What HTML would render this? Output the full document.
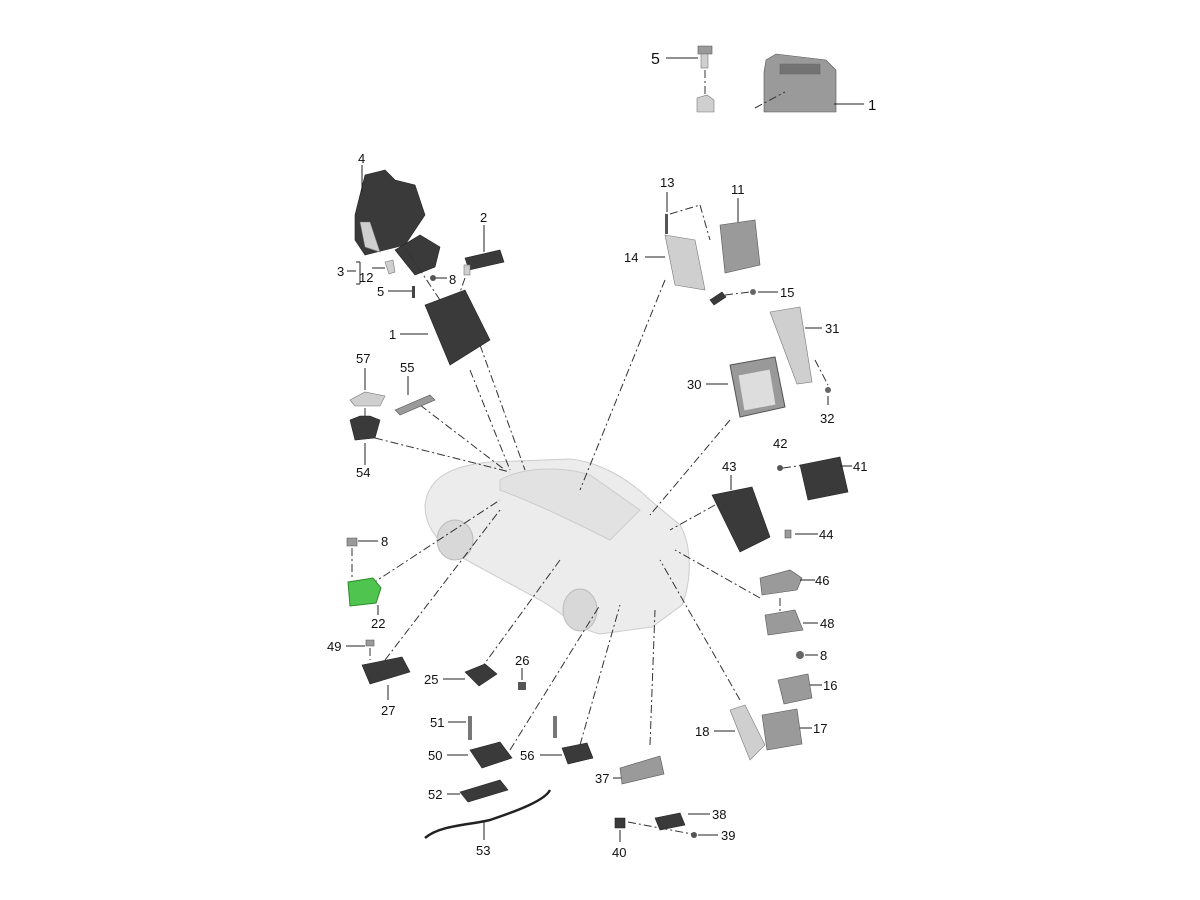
<!DOCTYPE html>
<html><head><meta charset="utf-8"><style>
html,body{margin:0;padding:0;background:#fff;}
svg{display:block}
text{font-family:"Liberation Sans",Arial,sans-serif;font-size:13px;fill:#111}
.l{stroke:#222;stroke-width:1;fill:none}
.d{stroke:#333;stroke-width:1;fill:none;stroke-dasharray:8 3 2 3}
.p{fill:#3a3a3a;stroke:#222;stroke-width:.6}
.g{fill:#9a9a9a;stroke:#555;stroke-width:.6}
.lg{fill:#cfcfcf;stroke:#777;stroke-width:.6}
</style></head><body>
<svg width="1200" height="900" viewBox="0 0 1200 900">
<!-- top inset -->
<text x="651" y="64" style="font-size:16px">5</text>
<line class="l" x1="666" y1="58" x2="698" y2="58"/>
<path class="g" d="M698 46 h14 v8 h-14z"/><rect class="lg" x="701" y="54" width="7" height="14"/>
<line class="d" x1="705" y1="70" x2="705" y2="97"/>
<path class="lg" d="M697 98 l10 -3 l7 5 v12 h-17z"/>
<path class="g" d="M766 60 l10 -6 l50 6 l10 10 v42 h-72 v-40z"/>
<path class="p" d="M780 64 h40 v10 h-40z" opacity=".4"/>
<line class="d" x1="755" y1="108" x2="785" y2="92"/>
<line class="l" x1="834" y1="104" x2="864" y2="104"/>
<text x="868" y="110" style="font-size:15px">1</text>
<!-- car -->
<path d="M425 505 C428 478 450 466 490 462 L570 459 C600 462 630 480 650 500 L680 525 C692 545 692 580 682 605 L652 627 L600 634 C580 630 565 615 540 600 L470 562 C440 545 425 530 425 505Z" fill="#ececec" stroke="#ccc"/>
<path d="M500 480 C520 468 560 465 590 475 L640 510 L610 540 C580 525 540 505 500 490Z" fill="#e2e2e2" stroke="#ccc"/>
<ellipse cx="455" cy="540" rx="18" ry="20" fill="#d8d8d8" stroke="#bbb"/>
<ellipse cx="580" cy="610" rx="17" ry="21" fill="#d8d8d8" stroke="#bbb"/>
<!-- dash lines to car -->
<line class="d" x1="480" y1="345" x2="525" y2="470"/>
<line class="d" x1="470" y1="370" x2="510" y2="470"/>
<line class="d" x1="420" y1="405" x2="505" y2="470"/>
<line class="d" x1="375" y1="438" x2="510" y2="472"/>
<line class="d" x1="665" y1="280" x2="580" y2="490"/>
<line class="d" x1="730" y1="420" x2="650" y2="515"/>
<line class="d" x1="715" y1="505" x2="670" y2="530"/>
<line class="d" x1="760" y1="598" x2="675" y2="550"/>
<line class="d" x1="740" y1="700" x2="660" y2="560"/>
<line class="d" x1="650" y1="745" x2="655" y2="610"/>
<line class="d" x1="580" y1="745" x2="620" y2="605"/>
<line class="d" x1="510" y1="750" x2="600" y2="605"/>
<line class="d" x1="480" y1="670" x2="560" y2="560"/>
<line class="d" x1="385" y1="660" x2="500" y2="510"/>
<line class="d" x1="370" y1="585" x2="500" y2="500"/>
<!-- part 4 -->
<path class="p" d="M355 215 l10 -40 l20 -5 l10 10 l20 5 l10 30 l-20 30 l-40 10 l-10 -15z"/>
<path class="lg" d="M360 222 l5 25 l15 5 l-10 -30z"/>
<line class="l" x1="362" y1="165" x2="362" y2="192"/>
<text x="358" y="163">4</text>
<path class="p" d="M395 250 l25 -15 l20 12 l-5 20 l-20 8z"/>
<path class="lg" d="M385 262 l8 -2 l2 12 l-6 2z"/>
<line class="d" x1="400" y1="240" x2="440" y2="300"/>
<!-- 2 -->
<path class="p" d="M465 258 l35 -8 l4 12 l-35 8z"/><rect class="lg" x="464" y="265" width="6" height="10"/>
<line class="l" x1="484" y1="225" x2="484" y2="252"/><text x="480" y="222">2</text>
<line class="d" x1="465" y1="278" x2="450" y2="320"/>
<text x="337" y="276">3</text><line class="l" x1="347" y1="271" x2="356" y2="271"/>
<path class="l" d="M360 262 v22 M356 262 h4 M356 284 h4"/>
<text x="359" y="282">12</text><line class="l" x1="372" y1="268" x2="385" y2="268"/>
<text x="449" y="284">8</text><line class="l" x1="436" y1="278" x2="447" y2="278"/><circle cx="433" cy="278" r="3" fill="#555"/>
<text x="377" y="296">5</text><line class="l" x1="388" y1="291" x2="412" y2="291"/><rect x="412" y="286" width="3" height="12" fill="#444"/>
<!-- 1 -->
<path class="p" d="M425 305 l40 -15 l25 50 l-40 25z"/>
<text x="389" y="339">1</text><line class="l" x1="400" y1="334" x2="428" y2="334"/>
<!-- 57/55/54 -->
<text x="356" y="363">57</text><line class="l" x1="365" y1="368" x2="365" y2="390"/>
<path class="lg" d="M350 400 l15 -8 l20 4 l-5 10 l-25 0z"/>
<path class="p" d="M350 420 l10 -4 l10 0 l10 4 l-5 18 l-20 2z"/>
<line class="d" x1="365" y1="408" x2="365" y2="418"/>
<text x="356" y="477">54</text><line class="l" x1="365" y1="443" x2="365" y2="465"/>
<text x="400" y="372">55</text><line class="l" x1="408" y1="376" x2="408" y2="395"/>
<path class="g" d="M395 410 l35 -15 l5 5 l-35 15z"/>
<!-- 8 / 22 -->
<text x="381" y="546">8</text><line class="l" x1="358" y1="541" x2="378" y2="541"/><path class="g" d="M347 538 h10 v8 h-10z"/>
<line class="d" x1="352" y1="548" x2="352" y2="580"/>
<path d="M348 582 l25 -4 l8 10 l-5 15 l-26 3z" fill="#4fc44f" stroke="#2a8a2a"/>
<line class="l" x1="378" y1="605" x2="378" y2="615"/><text x="371" y="628">22</text>
<!-- 49 27 -->
<text x="327" y="651">49</text><line class="l" x1="346" y1="646" x2="365" y2="646"/><path class="g" d="M366 640 h8 v6 h-8z"/>
<line class="d" x1="370" y1="648" x2="370" y2="660"/>
<path class="p" d="M362 665 l40 -8 l8 15 l-40 12z"/>
<line class="l" x1="388" y1="685" x2="388" y2="700"/><text x="381" y="715">27</text>
<!-- 25 26 -->
<text x="424" y="684">25</text><line class="l" x1="443" y1="679" x2="465" y2="679"/>
<path class="p" d="M465 672 l20 -8 l12 10 l-18 12z"/>
<text x="515" y="665">26</text><line class="l" x1="522" y1="668" x2="522" y2="680"/><rect x="518" y="682" width="8" height="8" fill="#555"/>
<!-- 51 50 52 53 56 -->
<text x="430" y="727">51</text><line class="l" x1="448" y1="722" x2="466" y2="722"/><rect x="468" y="716" width="4" height="24" fill="#777"/>
<text x="428" y="760">50</text><line class="l" x1="447" y1="755" x2="468" y2="755"/>
<path class="p" d="M470 750 l30 -8 l12 16 l-30 10z"/>
<text x="428" y="799">52</text><line class="l" x1="447" y1="794" x2="460" y2="794"/>
<path class="p" d="M460 792 l40 -12 l8 10 l-40 12z"/>
<path class="l" style="stroke-width:2.5" d="M425 838 C440 825 470 825 490 820 C520 810 545 800 550 790"/>
<line class="l" x1="484" y1="820" x2="484" y2="840"/><text x="476" y="855">53</text>
<text x="520" y="760">56</text><line class="l" x1="540" y1="755" x2="562" y2="755"/><rect x="553" y="716" width="4" height="22" fill="#777"/>
<path class="p" d="M562 748 l25 -5 l6 15 l-25 6z"/>
<!-- 37 40 38 39 -->
<text x="595" y="783">37</text><line class="l" x1="613" y1="778" x2="622" y2="778"/>
<path class="g" d="M620 768 l40 -12 l4 18 l-42 10z"/>
<path class="p" d="M615 818 h10 v10 h-10z"/><line class="l" x1="620" y1="830" x2="620" y2="842"/><text x="612" y="857">40</text>
<path class="p" d="M655 818 l25 -5 l5 12 l-25 5z"/><line class="l" x1="688" y1="814" x2="710" y2="814"/><text x="712" y="819">38</text>
<circle cx="694" cy="835" r="3" fill="#555"/><line class="l" x1="698" y1="835" x2="718" y2="835"/><text x="721" y="840">39</text>
<line class="d" x1="628" y1="822" x2="692" y2="834"/>
<!-- right side -->
<text x="660" y="187">13</text><line class="l" x1="667" y1="192" x2="667" y2="212"/><rect x="665" y="214" width="3" height="20" fill="#555"/>
<line class="d" x1="670" y1="214" x2="700" y2="205"/><line class="d" x1="700" y1="205" x2="710" y2="240"/>
<text x="731" y="194">11</text><line class="l" x1="738" y1="198" x2="738" y2="222"/>
<path class="g" d="M720 225 l35 -5 l5 45 l-35 8z"/>
<path class="lg" d="M665 235 l30 5 l10 50 l-30 -5z"/>
<text x="624" y="262">14</text><line class="l" x1="645" y1="257" x2="665" y2="257"/>
<path class="p" d="M710 300 l12 -8 l4 5 l-12 8z"/>
<line class="d" x1="725" y1="295" x2="750" y2="292"/><circle cx="753" cy="292" r="3" fill="#666"/>
<line class="l" x1="758" y1="292" x2="778" y2="292"/><text x="780" y="297">15</text>
<path class="lg" d="M770 312 l30 -5 l12 75 l-15 2z"/>
<line class="l" x1="805" y1="328" x2="822" y2="328"/><text x="825" y="333">31</text>
<line class="d" x1="815" y1="360" x2="828" y2="385"/><circle cx="828" cy="390" r="3" fill="#666"/>
<line class="l" x1="828" y1="396" x2="828" y2="405"/><text x="820" y="423">32</text>
<path d="M730 365 l45 -8 l10 50 l-45 10z" fill="#999" stroke="#555"/>
<path d="M738 375 l32 -6 l6 36 l-32 6z" fill="#ddd" stroke="#999"/>
<text x="687" y="389">30</text><line class="l" x1="706" y1="384" x2="728" y2="384"/>
<text x="773" y="448">42</text><circle cx="780" cy="468" r="3" fill="#555"/>
<line class="d" x1="783" y1="468" x2="805" y2="465"/>
<path class="p" d="M800 465 l40 -8 l8 35 l-40 8z"/>
<line class="l" x1="840" y1="466" x2="852" y2="466"/><text x="853" y="471">41</text>
<text x="722" y="471">43</text><line class="l" x1="731" y1="475" x2="731" y2="490"/>
<path class="p" d="M712 495 l40 -8 l18 50 l-30 15z"/>
<path class="g" d="M785 530 h6 v8 h-6z"/><line class="l" x1="795" y1="534" x2="818" y2="534"/><text x="819" y="539">44</text>
<path class="g" d="M760 578 l30 -8 l12 8 l-5 12 l-35 5z"/>
<line class="l" x1="800" y1="580" x2="815" y2="580"/><text x="815" y="585">46</text>
<line class="d" x1="780" y1="598" x2="780" y2="612"/>
<path class="g" d="M765 615 l30 -5 l8 20 l-35 5z"/>
<line class="l" x1="803" y1="623" x2="818" y2="623"/><text x="820" y="628">48</text>
<circle cx="800" cy="655" r="4" fill="#666"/><line class="l" x1="805" y1="655" x2="818" y2="655"/><text x="820" y="660">8</text>
<path class="g" d="M778 680 l30 -6 l4 24 l-28 6z"/>
<line class="l" x1="810" y1="685" x2="822" y2="685"/><text x="823" y="690">16</text>
<path class="g" d="M762 715 l35 -6 l5 35 l-35 6z"/>
<line class="l" x1="800" y1="728" x2="812" y2="728"/><text x="813" y="733">17</text>
<path class="lg" d="M730 710 l15 -5 l20 40 l-15 15z"/>
<text x="695" y="736">18</text><line class="l" x1="714" y1="731" x2="735" y2="731"/>
</svg>
</body></html>
